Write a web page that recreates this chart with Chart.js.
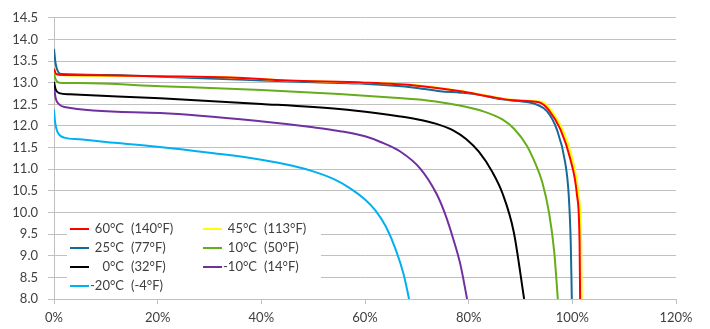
<!DOCTYPE html>
<html lang="en">
<head>
    <meta charset="UTF-8">
    <title>Discharge curves</title>
    <script src="https://cdn.jsdelivr.net/npm/chart.js@4"></script>
    <style>
        html, body { margin: 0; padding: 0; background: #fff; }
        #wrap { position: relative; width: 710px; height: 329px; }
    </style>
</head>
<body>
<div id="wrap"><canvas id="chart"></canvas></div>
<script>
// Legend labels, in legend order (two columns: left, right, left, right...)
const seriesLabels = ['60°C  (140°F)', '45°C  (113°F)', '25°C  (77°F)', '10°C  (50°F)', '0°C  (32°F)', '-10°C  (14°F)', '-20°C  (-4°F)'];
const seriesColors = ['#ff0000', '#ffff00', '#156a98', '#66ad1c', '#000000', '#7030a0', '#00b0f0'];

// capacity (%) and voltage (V), per temperature
const cap60  = [0, 0.4, 2, 20, 34, 45, 60, 70, 78.4, 84, 88, 92, 94, 95.4, 97.7, 99.6, 100.9, 101.4, 101.5];
const volt60 = [13.32, 13.2, 13.18, 13.15, 13.12, 13.05, 13.0, 12.93, 12.8, 12.68, 12.6, 12.57, 12.53, 12.38, 11.92, 11.24, 10.4, 9.3, 8.0];

const cap45  = [0, 0.4, 2, 20, 34, 45, 60, 70, 78.4, 84, 88, 92, 94.3, 95.8, 98.1, 100.0, 101.2, 101.7, 101.8];
const volt45 = [13.3, 13.2, 13.17, 13.15, 13.12, 13.05, 13.0, 12.94, 12.81, 12.69, 12.61, 12.58, 12.55, 12.38, 11.92, 11.24, 10.4, 9.3, 8.0];

const cap25  = [0, 0.3, 0.8, 1.5, 10, 20.5, 34, 40, 50, 59, 70, 74.5, 78.4, 82.2, 86, 90, 93.2, 95.1, 97, 98.6, 99.3, 99.7, 99.9];
const volt25 = [13.78, 13.45, 13.25, 13.2, 13.18, 13.14, 13.08, 13.05, 13.01, 12.98, 12.88, 12.8, 12.77, 12.72, 12.62, 12.57, 12.49, 12.34, 11.92, 11.17, 10.41, 9.27, 8.0];

const cap10  = [0, 0.3, 1, 5, 20.5, 40, 55, 65, 72, 78, 82.5, 86.5, 88.8, 91.2, 92.8, 94.2, 95.5, 96.5, 97.2];
const volt10 = [13.22, 13.08, 13.0, 12.99, 12.92, 12.83, 12.74, 12.66, 12.59, 12.48, 12.35, 12.15, 11.93, 11.55, 11.15, 10.7, 10.0, 9.1, 8.0];

const cap0   = [0, 0.3, 1, 3, 20.5, 40, 55, 62, 66.8, 71, 74.5, 77, 79.5, 82, 84.5, 86.5, 88.7, 90.7];
const volt0  = [13.02, 12.85, 12.76, 12.73, 12.64, 12.51, 12.39, 12.3, 12.22, 12.13, 12.02, 11.9, 11.7, 11.4, 10.95, 10.45, 9.55, 8.0];

const capM10  = [0, 0.3, 1, 2, 20.5, 39.8, 50, 55.2, 60, 63, 66.8, 70.7, 73.9, 75.5, 77, 78.4, 79.7];
const voltM10 = [12.92, 12.65, 12.5, 12.44, 12.3, 12.11, 11.97, 11.88, 11.76, 11.63, 11.41, 11.01, 10.41, 9.95, 9.4, 8.8, 8.0];

const capM20  = [0, 0.2, 0.5, 1, 2, 5, 10, 20, 30, 40, 46, 50, 54, 57, 60, 62, 64, 66, 67.5, 68.5];
const voltM20 = [12.38, 12.1, 11.92, 11.8, 11.73, 11.69, 11.63, 11.52, 11.38, 11.22, 11.08, 10.95, 10.77, 10.57, 10.3, 10.05, 9.68, 9.12, 8.55, 8.0];

const capacities = [cap60, cap45, cap25, cap10, cap0, capM10, capM20];
const voltages = [volt60, volt45, volt25, volt10, volt0, voltM10, voltM20];

const yTicksMin = 8.0, yTicksMax = 14.5, yStep = 0.5;
const xTicksMin = 0, xTicksMax = 120, xStep = 20;

const textColor = '#404040';
const gridColor = '#c0c0c0';
const fontFamily = 'Lato, "Open Sans", sans-serif';

// legend drawn inside the plot area, two columns like the original
const boxLegend = {
    id: 'boxLegend',
    afterDatasetsDraw(chart) {
        const ctx = chart.ctx;
        ctx.save();
        ctx.fillStyle = '#ffffff';
        ctx.fillRect(67, 216, 254, 80);
        ctx.font = '13px ' + fontFamily;
        ctx.textBaseline = 'middle';
        seriesLabels.forEach((lab, i) => {
            const col = i % 2, row = Math.floor(i / 2);
            const x0 = col === 0 ? 70 : 203;
            const y = 229 + row * 19;
            ctx.strokeStyle = seriesColors[i];
            ctx.lineWidth = 2;
            ctx.beginPath();
            ctx.moveTo(x0, y);
            ctx.lineTo(x0 + 19, y);
            ctx.stroke();
            const parts = lab.split('  ');
            ctx.fillStyle = textColor;
            ctx.textAlign = 'right';
            ctx.fillText(parts[0], x0 + 54, y);
            ctx.textAlign = 'left';
            ctx.fillText(parts[1], x0 + 61, y);
        });
        ctx.restore();
    }
};

new Chart(document.getElementById('chart').getContext('2d'), {
    type: 'line',
    data: {
        datasets: seriesLabels.map((lab, i) => ({
            label: lab,
            data: capacities[i].map((c, j) => ({ x: c, y: voltages[i][j] })),
            borderColor: seriesColors[i],
            backgroundColor: seriesColors[i],
            borderWidth: 2,
            pointRadius: 0,
            cubicInterpolationMode: 'monotone',
            fill: false
        }))
    },
    options: {
        responsive: true,
        maintainAspectRatio: false,
        animation: false,
        layout: { padding: { left: 0, right: 34, top: 13, bottom: 0 } },
        plugins: {
            legend: { display: false },
            tooltip: { enabled: false }
        },
        scales: {
            x: {
                type: 'linear',
                min: xTicksMin,
                max: xTicksMax,
                afterFit: s => { s.height = 30; },
                grid: { drawOnChartArea: false, drawTicks: true, tickLength: 5, color: gridColor },
                border: { color: gridColor },
                ticks: {
                    stepSize: xStep,
                    padding: 6,
                    color: textColor,
                    font: { family: fontFamily, size: 13 },
                    callback: v => v + '%'
                }
            },
            y: {
                min: yTicksMin,
                max: yTicksMax,
                afterFit: s => { s.width = 54; },
                grid: { color: gridColor, tickLength: 6 },
                border: { color: gridColor },
                ticks: {
                    stepSize: yStep,
                    padding: 10,
                    color: textColor,
                    font: { family: fontFamily, size: 13 },
                    callback: v => v.toFixed(1)
                }
            }
        }
    },
    plugins: [boxLegend]
});
</script>
</body>
</html>
